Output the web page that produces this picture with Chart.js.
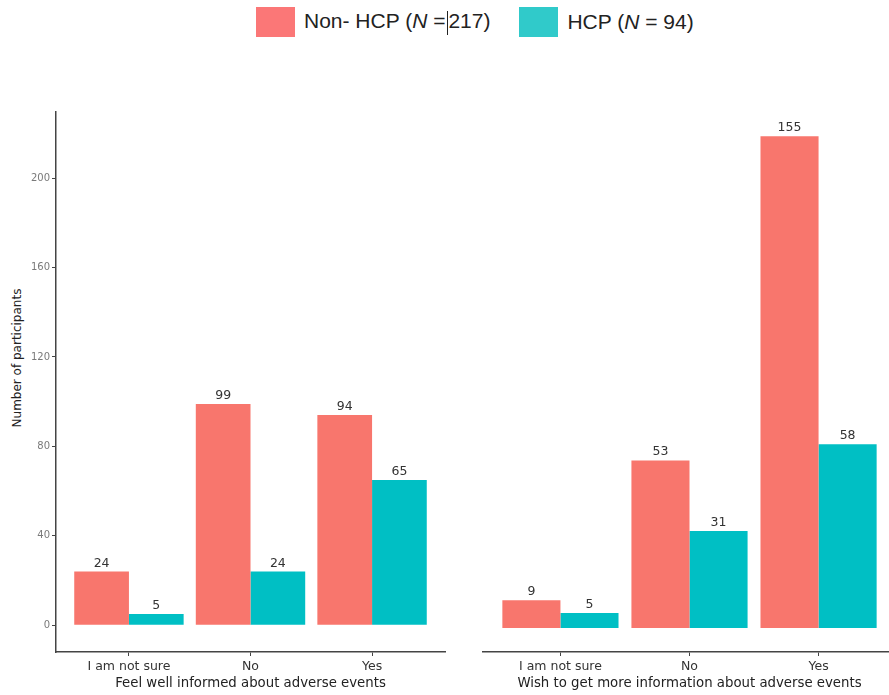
<!DOCTYPE html>
<html>
<head>
<meta charset="utf-8">
<script src="https://cdn.jsdelivr.net/npm/chart.js@4/dist/chart.umd.min.js"></script>
<style>
  html, body { margin:0; padding:0; background:#fff; width:889px; height:695px; overflow:hidden; }
  body { position:relative; font-family:"Liberation Sans", Arial, sans-serif; }
  #legend { position:absolute; top:7px; left:256px; height:30px; display:flex; align-items:center; font-size:21px; color:#222; white-space:nowrap; }
  .key { width:39px; height:30px; display:inline-block; margin-right:9px; }
  .item { display:flex; align-items:center; margin-right:29px; }
  .cursor { display:inline-block; border-left:1px solid #222; height:24px; vertical-align:middle; margin-left:2px; }
  #ytitle { position:absolute; left:17px; top:358px; transform:translate(-50%,-50%) rotate(-90deg); font-family:"DejaVu Sans", sans-serif; font-size:12px; color:#222; white-space:nowrap; }
  #c1wrap { position:absolute; left:0; top:100px; width:460px; height:595px; }
  #c2wrap { position:absolute; left:460px; top:100px; width:440px; height:595px; }
</style>
</head>
<body>
<div id="legend">
  <div class="item"><span class="key" style="background:#fb7777"></span><span>Non- HCP (<i>N</i> =<span class="cursor"></span>217)</span></div>
  <div class="item"><span class="key" style="background:#30caca"></span><span>HCP (<i>N</i> = 94)</span></div>
</div>
<div id="ytitle">Number of participants</div>
<div id="c1wrap"><canvas id="c1"></canvas></div>
<div id="c2wrap"><canvas id="c2"></canvas></div>
<script>
// ---- data ----
const categories = ["I am not sure", "No", "Yes"];
const seriesNames = ["Non- HCP", "HCP"];
const yTicks = [0, 40, 80, 120, 160, 200];

// Panel 1: Feel well informed about adverse events
const informedNonHCP = [24, 99, 94];
const informedHCP = [5, 24, 65];
const informedNonHCPLabels = [24, 99, 94];
const informedHCPLabels = [5, 24, 65];

// Panel 2: Wish to get more information (bar heights as drawn, labels as printed)
const wishNonHCP = [12.5, 75, 220];
const wishHCP = [6.7, 43.4, 82.3];
const wishNonHCPLabels = [9, 53, 155];
const wishHCPLabels = [5, 31, 58];

const RED = "#F8766D";
const TEAL = "#00BFC4";
const FONT = "'DejaVu Sans', sans-serif";

function pts(vals) { return vals.map((v, i) => ({ x: i + 1, y: v })); }

const labelPlugin = {
  id: "barLabels",
  afterDatasetsDraw(chart) {
    const ctx = chart.ctx;
    ctx.save();
    ctx.font = "12.5px " + FONT;
    ctx.fillStyle = "#333";
    ctx.textAlign = "center";
    ctx.textBaseline = "alphabetic";
    chart.data.datasets.forEach((ds, di) => {
      const meta = chart.getDatasetMeta(di);
      meta.data.forEach((bar, i) => {
        ctx.fillText(String(ds.valueLabels[i]), bar.x, bar.y - 5);
      });
    });
    ctx.restore();
  }
};

function makeChart(id, nonVals, hcpVals, nonLabels, hcpLabels, opts) {
  return new Chart(document.getElementById(id), {
    type: "bar",
    data: {
      datasets: [
        { label: seriesNames[0], data: pts(nonVals), valueLabels: nonLabels, backgroundColor: RED, borderWidth: 0 },
        { label: seriesNames[1], data: pts(hcpVals), valueLabels: hcpLabels, backgroundColor: TEAL, borderWidth: 0 }
      ]
    },
    plugins: [labelPlugin],
    options: {
      responsive: true,
      maintainAspectRatio: false,
      animation: false,
      events: [],
      layout: { padding: opts.padding },
      plugins: { legend: { display: false }, tooltip: { enabled: false } },
      datasets: { bar: { categoryPercentage: 0.9, barPercentage: 1.0 } },
      scales: {
        x: {
          type: "linear",
          min: 0.4,
          max: 3.6,
          offset: false,
          afterBuildTicks(s) { s.ticks = categories.map((c, i) => ({ value: i + 1 })); },
          afterFit(s) { s.height = 43; },
          ticks: {
            callback: (v) => categories[v - 1],
            font: { size: 12.5, family: FONT },
            color: "#333",
            padding: 3,
            maxRotation: 0,
            autoSkip: false
          },
          grid: { display: true, offset: false, drawOnChartArea: false, drawTicks: true, tickLength: 4, color: "#444", lineWidth: 1 },
          border: { display: true, color: "#444", width: 1.5 },
          title: {
            display: true,
            text: opts.xTitle,
            align: "center",
            font: { size: 13.3, family: FONT },
            color: "#222",
            padding: { top: 0, bottom: 3 }
          }
        },
        y: {
          display: opts.showY,
          min: opts.ymin,
          max: opts.ymax,
          afterBuildTicks(s) { s.ticks = yTicks.map(v => ({ value: v })); },
          afterFit(s) { if (opts.showY) s.width = 56; },
          ticks: { font: { size: 10, family: FONT }, color: "#7a7a7a", padding: 2 },
          grid: { display: true, drawOnChartArea: false, drawTicks: true, tickLength: 4, color: "#444" },
          border: { display: true, color: "#444", width: 1.5 }
        }
      }
    }
  });
}

makeChart("c1", informedNonHCP, informedHCP, informedNonHCPLabels, informedHCPLabels, {
  padding: { top: 12, right: 15, left: 0, bottom: 0 },
  xTitle: "Feel well informed about adverse events",
  showY: true,
  ymin: -12, ymax: 229.6
});

makeChart("c2", wishNonHCP, wishHCP, wishNonHCPLabels, wishHCPLabels, {
  padding: { top: 12, right: 4, left: 23, bottom: 0 },
  xTitle: "Wish to get more information about adverse events",
  showY: false,
  ymin: -10.7, ymax: 230.9
});
</script>
</body>
</html>
